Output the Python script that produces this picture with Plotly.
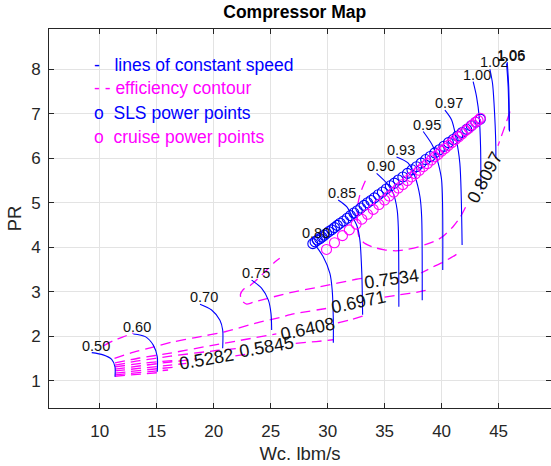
import plotly.graph_objects as go

# ---------------- data ----------------
# constant corrected-speed lines, surge end first, running down to choke
speed_names = ["0.50", "0.60", "0.70", "0.75", "0.80", "0.85", "0.90",
               "0.93", "0.95", "0.97", "1.00", "1.02", "1.05", "1.06"]
speed_wc = [
    [9.30, 10.30, 11.05, 11.34, 11.34],
    [12.95, 14.00, 14.70, 15.05, 15.05],
    [18.80, 19.82, 20.55, 20.79, 20.79],
    [23.33, 24.20, 24.80, 25.03, 25.09],
    [28.60, 29.60, 30.20, 30.40, 30.50, 30.50],
    [30.93, 31.67, 32.10, 32.60, 32.83, 33.00, 33.07],
    [34.30, 35.18, 35.76, 36.10, 36.20, 36.25],
    [36.05, 37.07, 37.66, 38.10, 38.25, 38.30],
    [38.39, 39.26, 39.70, 40.00, 40.10],
    [40.29, 40.88, 41.25, 41.60, 41.80],
    [42.77, 43.07, 43.30, 43.42, 43.45],
    [44.24, 44.47, 44.60, 44.76, 44.76],
    [45.70, 45.84, 45.93],
    [45.76, 45.89, 45.96],
]
speed_pr = [
    [1.63, 1.58, 1.48, 1.31, 1.09],
    [2.05, 1.99, 1.80, 1.54, 1.20],
    [2.72, 2.59, 2.36, 2.14, 1.73],
    [3.26, 3.08, 2.81, 2.51, 2.14],
    [4.16, 3.79, 3.41, 3.04, 2.36, 1.85],
    [5.06, 4.91, 4.72, 4.46, 4.16, 3.41, 2.48],
    [5.66, 5.44, 5.21, 4.84, 4.46, 2.66],
    [6.03, 5.89, 5.59, 5.14, 4.69, 2.81],
    [6.60, 6.26, 5.89, 5.51, 3.49],
    [7.08, 6.86, 6.48, 5.89, 4.05],
    [7.72, 7.38, 6.93, 6.26, 5.29],
    [8.00, 7.68, 7.24, 6.26, 6.00],
    [8.13, 7.61, 6.63],
    [8.16, 7.60, 6.60],
]

# efficiency contour pieces (broken where the inline labels sit)
contour_wc = [
    [46.00, 45.60, 45.25, 44.95],
    [42.10, 41.60, 41.00, 40.10, 39.60, 38.70, 38.00, 37.00, 36.00, 35.00,
     34.00, 33.30, 32.80, 32.62, 32.60, 32.65, 32.85, 33.15, 33.50],
    [41.30, 41.00, 40.10, 39.20, 38.20],
    [33.00, 32.50, 29.30, 26.40, 23.45, 22.90, 22.45, 22.35, 22.60, 23.20,
     24.00, 24.70, 25.30, 25.80],
    [11.30, 12.70, 14.60, 16.40, 18.40, 21.00, 23.80, 25.80, 27.00, 30.30],
    [35.00, 36.30, 38.10, 38.60],
    [11.34, 13.50, 16.20, 20.00, 25.50],
    [30.90, 32.00, 33.07],
    [11.34, 13.50, 16.20, 20.00, 22.00],
    [27.20, 29.00, 30.50],
    [11.34, 14.00, 16.90],
    [21.90, 23.20],
    [11.34, 16.20, 18.50],
    [11.34, 16.20, 17.60],
    [11.34, 15.10, 16.90],
    [11.34, 15.10, 16.00],
    [11.34, 15.10],
    [10.30, 11.20, 12.00, 12.95],
]
contour_pr = [
    [7.05, 6.75, 6.50, 6.28],
    [4.90, 4.66, 4.46, 4.24, 4.16, 4.07, 4.01, 3.95, 3.92, 3.94,
     4.00, 4.08, 4.20, 4.40, 4.70, 4.95, 5.20, 5.40, 5.60],
    [3.84, 3.79, 3.66, 3.55, 3.42],
    [3.30, 3.28, 3.11, 2.96, 2.76, 2.72, 2.80, 2.94, 3.05, 3.14,
     3.32, 3.50, 3.65, 3.75],
    [1.50, 1.62, 1.75, 1.87, 1.97, 2.10, 2.30, 2.42, 2.50, 2.64],
    [2.88, 2.93, 3.00, 3.03],
    [1.40, 1.51, 1.62, 1.80, 2.05],
    [2.30, 2.37, 2.45],
    [1.35, 1.45, 1.55, 1.67, 1.72],
    [1.84, 1.88, 1.92],
    [1.31, 1.40, 1.46],
    [1.56, 1.61],
    [1.26, 1.42, 1.49],
    [1.22, 1.35, 1.39],
    [1.17, 1.27, 1.31],
    [1.13, 1.22, 1.24],
    [1.10, 1.18],
    [1.78, 1.90, 1.98, 2.07],
]

# inline efficiency labels
eff_text = ["0.8097", "0.7534", "0.6971", "0.6408", "0.5845", "0.5282"]
eff_wc = [43.80, 35.60, 32.70, 28.20, 24.60, 19.40]
eff_pr = [5.58, 3.29, 2.77, 2.17, 1.75, 1.49]
eff_angle = [-62, -8, -12, -12, -10, -10]

# operating points
sls_wc = [28.7, 28.9, 29.1, 29.3, 29.5, 29.7, 29.9, 30.1, 30.35, 30.6,
          30.85, 31.1, 31.4, 31.7, 32.0, 32.3, 32.6, 32.9, 33.2, 33.5,
          33.8, 34.1, 34.45, 34.8, 35.15, 35.5, 35.85, 36.2, 36.6, 37.0,
          37.4, 37.8, 38.2, 38.6, 39.0, 39.4, 39.8, 40.2, 40.6, 41.0,
          41.4, 41.8, 42.2, 42.6, 43.0, 43.4]
sls_pr = [4.08, 4.12, 4.16, 4.19, 4.23, 4.27, 4.31, 4.35, 4.39, 4.44,
          4.49, 4.54, 4.59, 4.65, 4.71, 4.77, 4.82, 4.88, 4.94, 5.00,
          5.05, 5.11, 5.18, 5.24, 5.31, 5.38, 5.44, 5.51, 5.58, 5.66,
          5.74, 5.81, 5.89, 5.97, 6.04, 6.12, 6.19, 6.27, 6.35, 6.42,
          6.50, 6.58, 6.65, 6.73, 6.81, 6.88]
cruise_wc = [29.9, 30.6, 31.3, 31.9, 32.5, 33.0, 33.5, 34.0, 34.5, 35.0,
             35.4, 35.8, 36.2, 36.6, 37.0, 37.35, 37.7, 38.05, 38.4, 38.75,
             39.1, 39.4, 39.7, 40.0, 40.3, 40.6, 40.9, 41.2, 41.5, 41.8,
             42.1, 42.4, 42.7, 43.0, 43.2, 43.4]
cruise_pr = [3.95, 4.10, 4.26, 4.39, 4.52, 4.63, 4.74, 4.85, 4.96, 5.06,
             5.15, 5.24, 5.33, 5.41, 5.50, 5.58, 5.65, 5.73, 5.81, 5.88,
             5.96, 6.03, 6.09, 6.16, 6.22, 6.29, 6.35, 6.42, 6.48, 6.55,
             6.62, 6.68, 6.75, 6.81, 6.85, 6.90]

# key text
key_lines = ["-   lines of constant speed", "- - efficiency contour",
             "o  SLS power points", "o  cruise power points"]
key_wc = 9.3
key_pr = [8.10, 7.57, 7.01, 6.48]

x_ticks = [10, 15, 20, 25, 30, 35, 40, 45]
y_ticks = [1, 2, 3, 4, 5, 6, 7, 8]

# ---------------- styling ----------------
BLUE = "#0000ff"
MAGENTA = "#ff00ff"
AXC = "#262626"
FONT = "Liberation Sans, Arial, Helvetica, sans-serif"

fig = go.Figure()

for wc, pr in zip(contour_wc, contour_pr):
    fig.add_trace(go.Scatter(x=wc, y=pr, mode="lines", showlegend=False,
                             line=dict(color=MAGENTA, width=1.3, dash="10px,6px",
                                       shape="spline", smoothing=0.6),
                             hoverinfo="skip"))

for wc, pr in zip(speed_wc, speed_pr):
    fig.add_trace(go.Scatter(x=wc, y=pr, mode="lines", showlegend=False,
                             line=dict(color=BLUE, width=1.1, shape="spline", smoothing=0.8),
                             hoverinfo="skip"))

fig.add_trace(go.Scatter(x=sls_wc, y=sls_pr, mode="markers", showlegend=False,
                         marker=dict(symbol="circle-open", size=10, color=BLUE,
                                     line=dict(width=1.1, color=BLUE))))
fig.add_trace(go.Scatter(x=cruise_wc, y=cruise_pr, mode="markers", showlegend=False,
                         marker=dict(symbol="circle-open", size=10, color=MAGENTA,
                                     line=dict(width=1.1, color=MAGENTA))))

# speed labels at the surge end of each line
for name, wc, pr in zip(speed_names, speed_wc, speed_pr):
    fig.add_annotation(x=wc[0], y=pr[0], text=name, showarrow=False,
                       xanchor="center", yanchor="middle", xshift=4, yshift=7,
                       font=dict(family=FONT, size=14.5, color="#111111"))

# efficiency labels
for t, wc, pr, ang in zip(eff_text, eff_wc, eff_pr, eff_angle):
    fig.add_annotation(x=wc, y=pr, text=t, showarrow=False, textangle=ang,
                       xanchor="center", yanchor="middle",
                       font=dict(family=FONT, size=18, color="#111111"))

# key
for i, (t, pr) in enumerate(zip(key_lines, key_pr)):
    col = BLUE if i in (0, 2) else MAGENTA
    fig.add_annotation(x=key_wc, y=pr, text=t.replace(" ", "&nbsp;"), showarrow=False,
                       xanchor="left", yanchor="middle",
                       font=dict(family=FONT, size=17.5, color=col))

fig.update_layout(
    width=551, height=466,
    margin=dict(l=49, r=0, t=29, b=58),
    paper_bgcolor="white", plot_bgcolor="white",
    title=dict(text="<b>Compressor Map</b>", x=0.535, xanchor="center",
               y=0.974, yanchor="middle",
               font=dict(family=FONT, size=17.5, color="black")),
    font=dict(family=FONT, size=17, color=AXC),
)
axis_common = dict(showline=True, linecolor=AXC, linewidth=1, mirror="ticks",
                   ticks="inside", ticklen=5, tickcolor=AXC, showgrid=True,
                   gridcolor="#e3e3e3", gridwidth=1, zeroline=False,
                   tickfont=dict(family=FONT, size=17, color=AXC))
fig.update_xaxes(range=[5.55, 49.6], tickvals=x_ticks, ticklabelstandoff=8,
                 title=dict(text="Wc. lbm/s", standoff=6,
                            font=dict(family=FONT, size=18.5, color=AXC)),
                 **axis_common)
fig.update_yaxes(range=[0.386, 8.905], tickvals=y_ticks, ticklabelstandoff=4,
                 title=dict(text="PR", standoff=4,
                            font=dict(family=FONT, size=18.5, color=AXC)),
                 **axis_common)

fig.write_html("out.html")
